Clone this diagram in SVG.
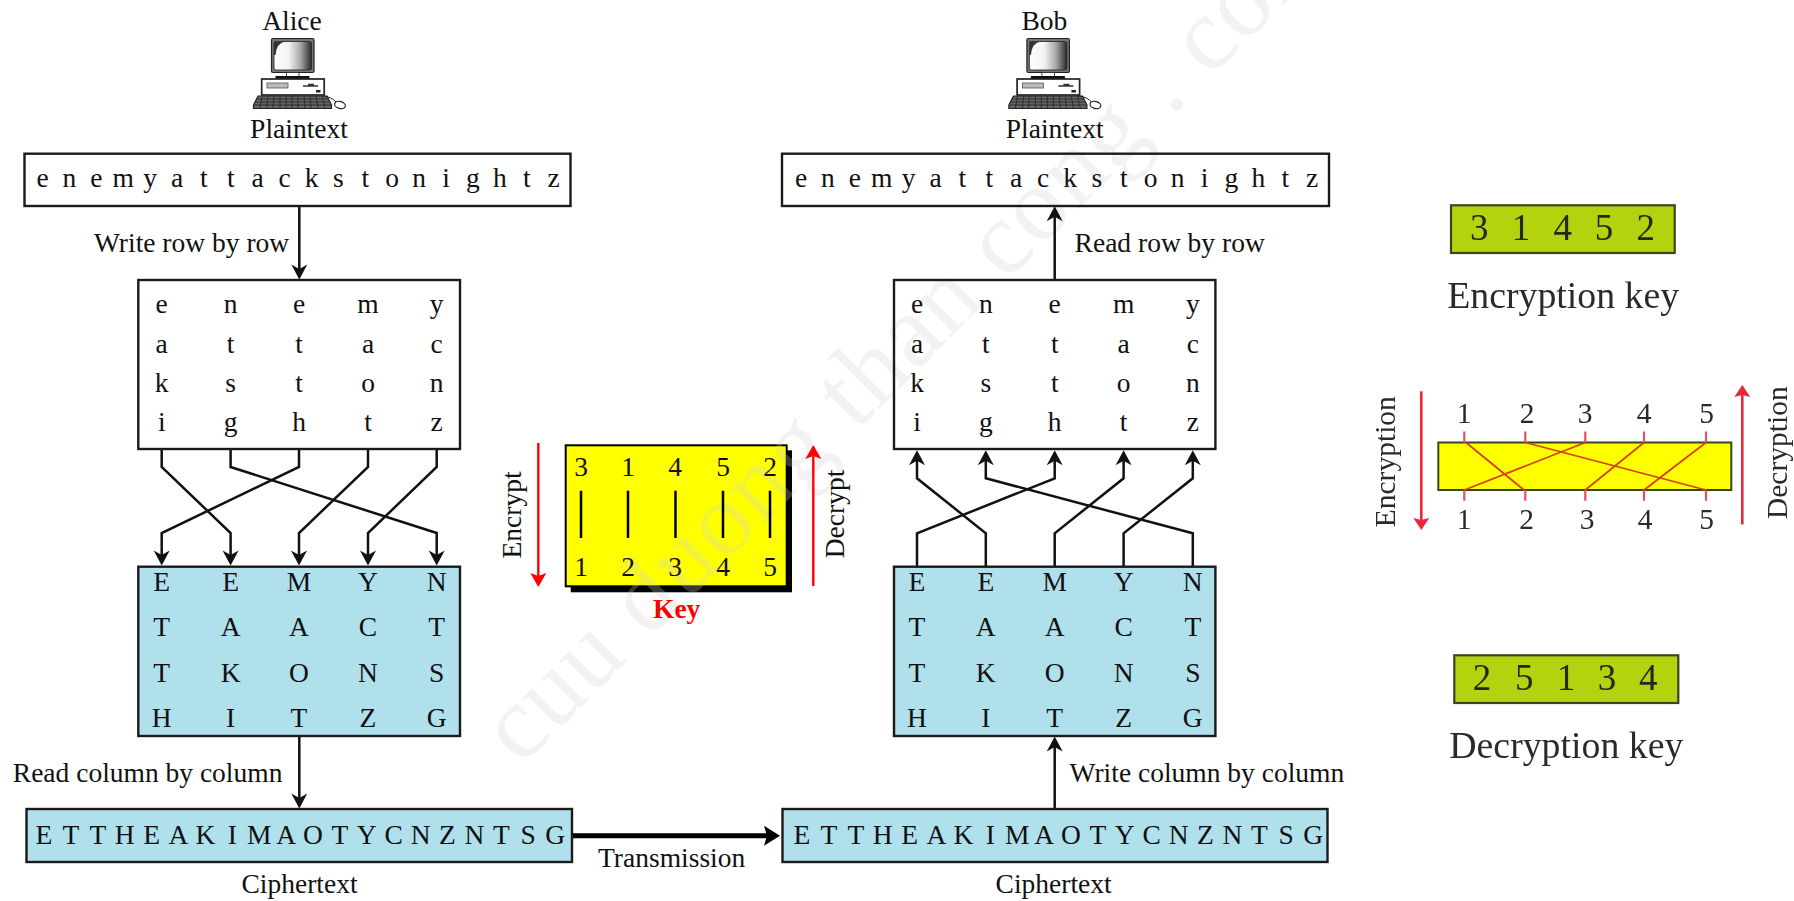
<svg xmlns="http://www.w3.org/2000/svg" xmlns:xlink="http://www.w3.org/1999/xlink" width="1794" height="901" viewBox="0 0 1794 901">
<style>
text{font-family:"Liberation Serif","Times New Roman",serif;font-size:27.500px;fill:#111}
.m{text-anchor:middle}
.box{fill:none;stroke:#1a1a1a;stroke-width:2.400}
.blue{fill:#b0e0ec;stroke:#1a1a1a;stroke-width:2.400}
.conn{fill:none;stroke:#111;stroke-width:2.500;marker-end:url(#ah)}
.red{fill:none;stroke:#f00;stroke-width:2.400;marker-end:url(#rh)}
.red2{fill:none;stroke:#e8283c;stroke-width:2.600;marker-end:url(#rh2)}
.bar{stroke:#000;stroke-width:2.500}
.green{fill:#b4d211;stroke:#38461c;stroke-width:2.200}
.dig{font-size:37px;fill:#232b18}
.cap{font-size:38px;fill:#2c2c2c}
.small{font-size:29.500px;fill:#2a2a2a}
.tick{stroke:#e4506a;stroke-width:2.200}
.perm{stroke:#d8400c;stroke-width:1.800}
.wm{font-size:104px;fill:#d0d0d0;fill-opacity:.27;letter-spacing:1.200px}
.soft{filter:url(#soft)}
</style>
<defs>
<filter id="soft" x="-5%" y="-5%" width="110%" height="110%"><feGaussianBlur stdDeviation=".5"/></filter>
<marker id="ah" markerUnits="userSpaceOnUse" markerWidth="16" markerHeight="18" refX="11" refY="9" orient="auto"><path d="M.5 1L15.500 9L.5 17L5 9Z" fill="#111"/></marker>
<marker id="big" markerUnits="userSpaceOnUse" markerWidth="18" markerHeight="22" refX="4" refY="11" orient="auto"><path d="M0 1L16 11L0 21L3 11Z" fill="#000"/></marker>
<marker id="rh" markerUnits="userSpaceOnUse" markerWidth="16" markerHeight="18" refX="3" refY="9" orient="auto"><path d="M0 1L14 9L0 17L3 9Z" fill="#f00"/></marker>
<marker id="rh2" markerUnits="userSpaceOnUse" markerWidth="14" markerHeight="18" refX="2" refY="9" orient="auto"><path d="M0 1L12 9L0 17L2 9Z" fill="#e8283c"/></marker>
<linearGradient id="scr" x1="0" x2="1" y1="0" y2="0"><stop offset="0" stop-color="#fff"/><stop offset=".4" stop-color="#f2f2f2"/><stop offset=".7" stop-color="#aaa"/><stop offset="1" stop-color="#2a2a2a"/></linearGradient>
<g id="pc">
<rect x="271.500" y="38.500" width="42.500" height="34" rx="1.500" fill="#777" stroke="#222" stroke-width="1.200"/>
<rect x="274" y="41.500" width="37.500" height="28.500" rx="2" fill="url(#scr)" stroke="#222" stroke-width=".8"/>
<path d="M274 41.500H285Q276.500 43 275.500 55H274Z" fill="#333"/>
<rect x="286.500" y="72.500" width="12.500" height="4" fill="#fff" stroke="#222" stroke-width=".8"/>
<rect x="275.500" y="76" width="34" height="3" fill="#111"/>
<rect x="261.700" y="79" width="62.500" height="16" fill="#fff" stroke="#222" stroke-width="1.700"/>
<rect x="267" y="83" width="21" height="5" fill="#bbb" stroke="#555" stroke-width=".8"/>
<path d="M303 86H318M308 84.500H314" stroke="#333" stroke-width="1.400"/>
<rect x="316" y="90" width="4.500" height="2.500" fill="#222"/>
<path d="M258 96H327L331.500 105V108.500H253.500V105Z" fill="#666" stroke="#222" stroke-width="1.200"/>
<path d="M257 99H328M255.500 102H329.500M254.500 105H331M262 96.500L260 108M268 96.500L267 108M274 96.500L273 108M280 96.500V108M286 96.500V108M292 96.500V108M298 96.500V108M304 96.500L305 108M310 96.500L311 108M316 96.500L318 108M322 96.500L325 108" stroke="#222" stroke-width=".8" fill="none"/>
<path d="M323 96Q332 97 336 102" fill="none" stroke="#222" stroke-width="1"/>
<ellipse cx="340" cy="105" rx="5.500" ry="3.500" fill="#fff" stroke="#222" stroke-width="1.200" transform="rotate(15 340 105)"/>
</g>
</defs>

<g id="key-card">
<rect x="570.700" y="450.300" width="221.300" height="142" fill="#000"/>
<rect x="565.700" y="445.300" width="221" height="141" fill="#ff0" stroke="#000" stroke-width="2"/>
</g>

<text class="wm" transform="translate(521,767) rotate(-45)">cuu duong than cong . com</text>

<g id="alice">
<text class="m" x="292" y="30">Alice</text>
<use href="#pc" xlink:href="#pc"/>
<text class="m" x="299" y="138">Plaintext</text>
</g>
<g id="bob">
<text class="m" x="1044.300" y="30">Bob</text>
<use href="#pc" xlink:href="#pc" transform="translate(755.400,0)"/>
<text class="m" x="1054.700" y="138">Plaintext</text>
</g>

<g id="connectors">
<line class="conn" x1="299.300" y1="206" x2="299.300" y2="275"/>
<line class="conn" x1="1054.700" y1="280" x2="1054.700" y2="210.700"/>
<polyline class="conn" points="161.700,449 161.700,467 230.600,533 230.600,561"/>
<polyline class="conn" points="230.600,449 230.600,467 436.700,533 436.700,561"/>
<polyline class="conn" points="299,449 299,467 161.700,533 161.700,561"/>
<polyline class="conn" points="368,449 368,467 299,533 299,561"/>
<polyline class="conn" points="436.700,449 436.700,467 368,533 368,561"/>
<polyline class="conn" points="917,566 917,533.300 1054.700,478.300 1054.700,454.700"/>
<polyline class="conn" points="985.800,566 985.800,533.300 917,478.300 917,454.700"/>
<polyline class="conn" points="1054.700,566 1054.700,533.300 1123.600,478.300 1123.600,454.700"/>
<polyline class="conn" points="1123.600,566 1123.600,533.300 1192.800,478.300 1192.800,454.700"/>
<polyline class="conn" points="1192.800,566 1192.800,533.300 985.800,478.300 985.800,454.700"/>
<line class="conn" x1="299.300" y1="736" x2="299.300" y2="804"/>
<line class="conn" x1="1054.700" y1="809" x2="1054.700" y2="741"/>
<line x1="572" y1="835.700" x2="768" y2="835.700" stroke="#000" stroke-width="5" marker-end="url(#big)"/>
</g>

<g id="plaintext-a">
<rect class="box" x="24.500" y="153.700" width="546" height="52.300"/>
<text x="42.500 55.950 69.400 82.850 96.300 109.750 123.200 136.650 150.100 163.550 177 190.450 203.900 217.350 230.800 244.250 257.700 271.150 284.600 298.050 311.500 324.950 338.400 351.850 365.300 378.750 392.200 405.650 419.100 432.550 446 459.450 472.900 486.350 499.800 513.250 526.700 540.150 553.600" y="186.700" class="m">e n e m y a t t a c k s t o n i g h t z</text>
</g>
<text id="lbl-write-row" x="94" y="251.700">Write row by row</text>
<g id="grid-a">
<rect class="box" x="138.300" y="280" width="321.700" height="169"/>
<text class="m" y="313" x="161.700 196 230.600 265 299 333.500 368 402 436.700">e n e m y</text>
<text class="m" y="352.700" x="161.700 196 230.600 265 299 333.500 368 402 436.700">a t t a c</text>
<text class="m" y="391.700" x="161.700 196 230.600 265 299 333.500 368 402 436.700">k s t o n</text>
<text class="m" y="431" x="161.700 196 230.600 265 299 333.500 368 402 436.700">i g h t z</text>
</g>
<g id="perm-a">
<rect class="blue" x="138.300" y="566.700" width="321.700" height="169.300"/>
<text class="m" y="591" x="161.700 196 230.600 265 299 333.500 368 402 436.700">E E M Y N</text>
<text class="m" y="636" x="161.700 196 230.600 265 299 333.500 368 402 436.700">T A A C T</text>
<text class="m" y="681.700" x="161.700 196 230.600 265 299 333.500 368 402 436.700">T K O N S</text>
<text class="m" y="727" x="161.700 196 230.600 265 299 333.500 368 402 436.700">H I T Z G</text>
</g>
<text id="lbl-read-col" x="12.800" y="781.700">Read column by column</text>
<g id="cipher-a">
<rect class="blue" x="26.500" y="809" width="545.500" height="53"/>
<text class="m" y="844" x="44 57.450 70.900 84.350 97.800 111.250 124.700 138.150 151.600 165.050 178.500 191.950 205.400 218.850 232.300 245.750 259.200 272.650 286.100 299.550 313 326.450 339.900 353.350 366.800 380.250 393.700 407.150 420.600 434.050 447.500 460.950 474.400 487.850 501.300 514.750 528.200 541.650 555.100">E T T H E A K I M A O T Y C N Z N T S G</text>
</g>
<text id="lbl-trans" x="598" y="867">Transmission</text>
<text id="lbl-cipher-a" class="m" x="299.500" y="892.700">Ciphertext</text>

<g id="plaintext-b">
<rect class="box" x="782" y="153.700" width="547" height="52.300"/>
<text x="801 814.450 827.900 841.350 854.800 868.250 881.700 895.150 908.600 922.050 935.500 948.950 962.400 975.850 989.300 1002.750 1016.200 1029.650 1043.100 1056.550 1070 1083.450 1096.900 1110.350 1123.800 1137.250 1150.700 1164.150 1177.600 1191.050 1204.500 1217.950 1231.400 1244.850 1258.300 1271.750 1285.200 1298.650 1312.100" y="186.700" class="m">e n e m y a t t a c k s t o n i g h t z</text>
</g>
<text id="lbl-read-row" x="1074.600" y="251.700">Read row by row</text>
<g id="grid-b">
<rect class="box" x="894" y="280" width="321.400" height="169"/>
<text class="m" y="313" x="917 951.400 985.800 1020.200 1054.700 1089.100 1123.600 1158.200 1192.800">e n e m y</text>
<text class="m" y="352.700" x="917 951.400 985.800 1020.200 1054.700 1089.100 1123.600 1158.200 1192.800">a t t a c</text>
<text class="m" y="391.700" x="917 951.400 985.800 1020.200 1054.700 1089.100 1123.600 1158.200 1192.800">k s t o n</text>
<text class="m" y="431" x="917 951.400 985.800 1020.200 1054.700 1089.100 1123.600 1158.200 1192.800">i g h t z</text>
</g>
<g id="perm-b">
<rect class="blue" x="894" y="566.700" width="321.400" height="169.300"/>
<text class="m" y="591" x="917 951.400 985.800 1020.200 1054.700 1089.100 1123.600 1158.200 1192.800">E E M Y N</text>
<text class="m" y="636" x="917 951.400 985.800 1020.200 1054.700 1089.100 1123.600 1158.200 1192.800">T A A C T</text>
<text class="m" y="681.700" x="917 951.400 985.800 1020.200 1054.700 1089.100 1123.600 1158.200 1192.800">T K O N S</text>
<text class="m" y="727" x="917 951.400 985.800 1020.200 1054.700 1089.100 1123.600 1158.200 1192.800">H I T Z G</text>
</g>
<text id="lbl-write-col" x="1069.600" y="781.700">Write column by column</text>
<g id="cipher-b">
<rect class="blue" x="782.500" y="809" width="545" height="53"/>
<text class="m" y="844" x="802 815.450 828.900 842.350 855.800 869.250 882.700 896.150 909.600 923.050 936.500 949.950 963.400 976.850 990.300 1003.750 1017.200 1030.650 1044.100 1057.550 1071 1084.450 1097.900 1111.350 1124.800 1138.250 1151.700 1165.150 1178.600 1192.050 1205.500 1218.950 1232.400 1245.850 1259.300 1272.750 1286.200 1299.650 1313.100">E T T H E A K I M A O T Y C N Z N T S G</text>
</g>
<text id="lbl-cipher-b" class="m" x="1053.600" y="892.700">Ciphertext</text>

<g id="key">
<text class="m" y="476" x="581 604.500 628 651.500 675 699 723 746.500 770">3 1 4 5 2</text>
<path class="bar" d="M581 490.700V538M628 490.700V538M675.500 490.700V538M723 490.700V538M770 490.700V538"/>
<text class="m" y="575.700" x="581 604.500 628 651.500 675 699 723 746.500 770">1 2 3 4 5</text>
<text class="m" x="676.700" y="618" style="font-weight:700;fill:#f00">Key</text>
<line class="red" x1="538.300" y1="443" x2="538.300" y2="576"/>
<line class="red" x1="813.300" y1="586" x2="813.300" y2="456"/>
<text class="m" transform="translate(521,515) rotate(-90)">Encrypt</text>
<text class="m" transform="translate(844,514) rotate(-90)">Decrypt</text>
</g>

<g id="enc-key" class="soft">
<rect class="green" x="1451" y="205.300" width="223.700" height="47.700"/>
<text class="m dig" y="240" x="1479.300 1500 1521 1542 1562.700 1583 1604 1625 1645.700">3 1 4 5 2</text>
<text class="m cap" x="1563.200" y="308" textLength="232" lengthAdjust="spacingAndGlyphs">Encryption key</text>
</g>
<g id="perm-key" class="soft">
<rect x="1438.300" y="442.500" width="293" height="47.500" fill="#ff0" stroke="#38461c" stroke-width="2"/>
<path class="tick" d="M1464.300 431.400V442.500M1525.300 431.400V442.500M1585.300 431.400V442.500M1644 431.400V442.500M1706 431.400V442.500M1464.300 490V500.700M1525.300 490V500.700M1585.300 490V500.700M1644 490V500.700M1706 490V500.700"/>
<path class="perm" fill="none" d="M1466 442.500L1524 490M1525.300 442.500L1706 490M1585.300 442.500L1464.300 490M1644 442.500L1585.300 490M1706 442.500L1644 490"/>
<text class="m small" y="423" x="1464 1495 1527 1556 1585 1614 1644 1675 1706.700">1 2 3 4 5</text>
<text class="m small" y="529" x="1464 1495 1526.700 1556 1587 1616 1645 1675 1706.700">1 2 3 4 5</text>
<line class="red2" x1="1421.300" y1="391.300" x2="1421.300" y2="520"/>
<line class="red2" x1="1742.300" y1="524.400" x2="1742.300" y2="395"/>
<text class="m small" transform="translate(1395,461.700) rotate(-90)">Encryption</text>
<text class="m small" transform="translate(1787,452.700) rotate(-90)">Decryption</text>
</g>
<g id="dec-key" class="soft">
<rect class="green" x="1454.300" y="655.300" width="224" height="47.700"/>
<text class="m dig" y="690" x="1482 1503 1524.300 1545 1566 1586.500 1607 1628 1648.300">2 5 1 3 4</text>
<text class="m cap" x="1566.300" y="758" textLength="234" lengthAdjust="spacingAndGlyphs">Decryption key</text>
</g>
</svg>
